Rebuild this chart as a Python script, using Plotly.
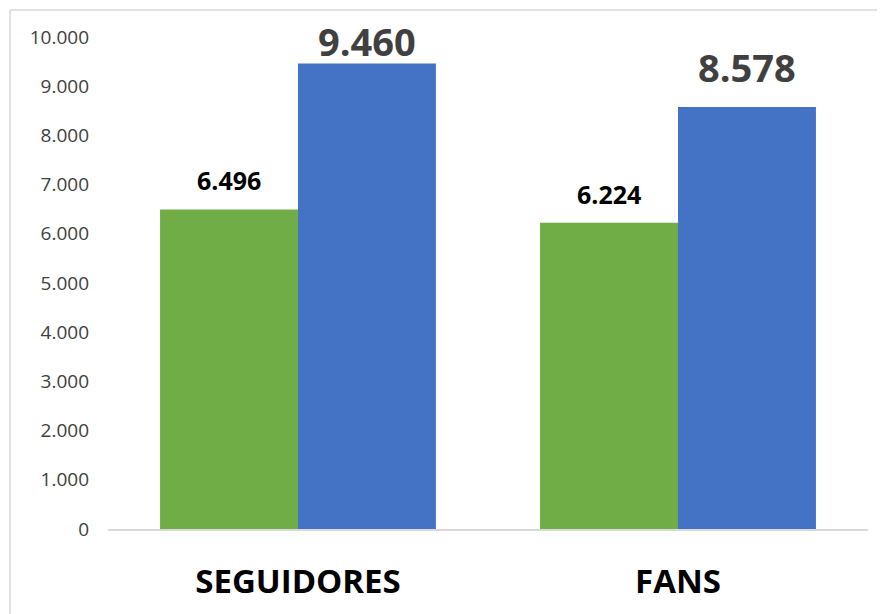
import plotly.graph_objects as go

categories = ["SEGUIDORES", "FANS"]
serie_verde = [6496, 6224]
serie_azul = [9460, 8578]
y_ticks = [0, 1000, 2000, 3000, 4000, 5000, 6000, 7000, 8000, 9000, 10000]

VERDE = "#70AD47"
AZUL = "#4472C4"

# page has an 8px body margin; figure sized to fit the 885x614 window
W, H = 877, 606
L, R, T, B = 100, 17, 29, 85

fig = go.Figure()
fig.add_trace(go.Bar(x=categories, y=serie_verde, marker=dict(color=VERDE, line=dict(width=0)),
                     name="verde", hoverinfo="y"))
fig.add_trace(go.Bar(x=categories, y=serie_azul, marker=dict(color=AZUL, line=dict(width=0)),
                     name="azul", hoverinfo="y"))

def fmt(v):
    return f"{v:,}".replace(",", ".")

label_shift_azul = [-5, 12]  # label offsets (pixels) for blue bars

ann = []
for c, v in zip(categories, serie_verde):
    ann.append(dict(x=c, y=v, xref="x", yref="y", text=fmt(v), showarrow=False,
                    xanchor="center", yanchor="bottom", xshift=-69, yshift=10,
                    font=dict(family="Open Sans", size=25, color="#000000", weight="bold")))
for c, v, s in zip(categories, serie_azul, label_shift_azul):
    ann.append(dict(x=c, y=v, xref="x", yref="y", text=fmt(v), showarrow=False,
                    xanchor="center", yanchor="bottom", xshift=69, yshift=s,
                    font=dict(family="Open Sans", size=38, color="#404040", weight="bold")))

pw = W - L - R
ph = H - T - B
fx, fy = 2, 2  # frame corner in figure pixels
fig.update_layout(
    width=W, height=H,
    margin=dict(l=L, r=R, t=T, b=B, pad=0),
    paper_bgcolor="white", plot_bgcolor="white",
    barmode="group", bargap=0.274, bargroupgap=0,
    showlegend=False,
    separators=",.",
    annotations=ann,
    font=dict(family="Open Sans"),
    shapes=[dict(type="rect", xref="paper", yref="paper",
                 x0=(fx - L) / pw, x1=(W + 20 - L) / pw,
                 y0=-(B + 20) / ph, y1=(H - B - fy) / ph,
                 line=dict(color="#D9D9D9", width=1.5), fillcolor="rgba(0,0,0,0)", layer="below")],
    xaxis=dict(showline=True, linecolor="#D9D9D9", linewidth=2, showgrid=False, zeroline=False,
               ticks="", ticklabelstandoff=22,
               tickfont=dict(family="Open Sans", size=33, color="#000000", weight="bold")),
    yaxis=dict(range=[0, 10000], tickvals=y_ticks, tickformat=",d", showgrid=False,
               zeroline=False, showline=False, ticks="", ticklabelstandoff=18,
               tickfont=dict(family="Open Sans", size=19, color="#404040")),
)

fig.write_html("out.html")
